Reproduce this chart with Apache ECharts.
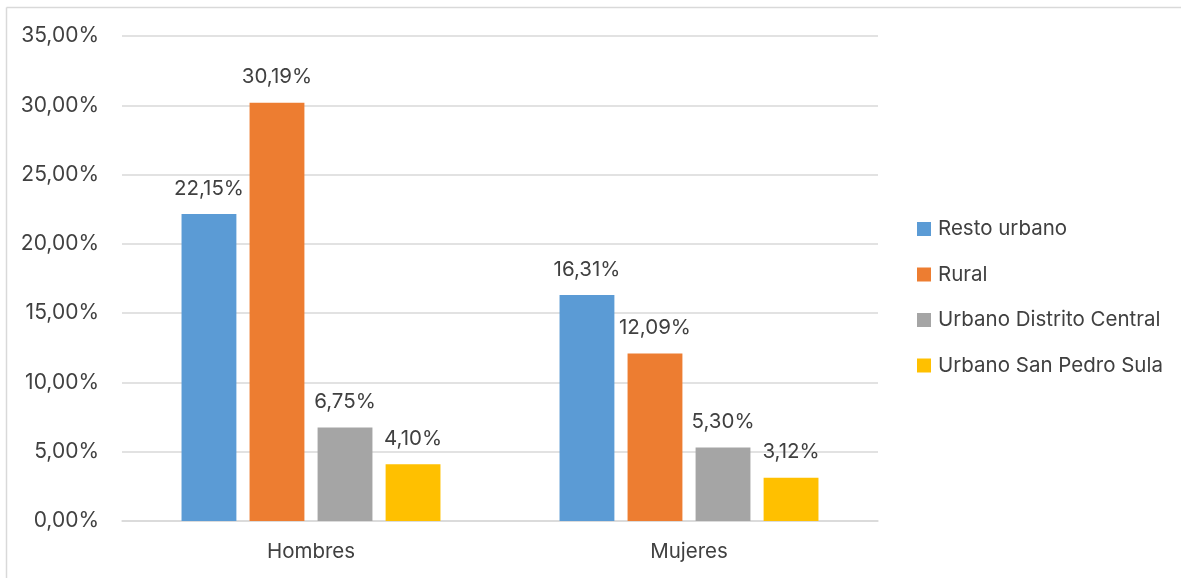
<!DOCTYPE html>
<html>
<head>
<meta charset="utf-8">
<style>
  html, body { margin: 0; padding: 0; background: #fff; }
  #chart { width: 1181px; height: 578px; }
</style>
<script src="https://cdn.jsdelivr.net/npm/echarts@6/dist/echarts.min.js"></script>
</head>
<body>
<div id="chart"></div>
<script>
// Categories and series values (percent)
const categories = ['Hombres', 'Mujeres'];
const seriesNames = ['Resto urbano', 'Rural', 'Urbano Distrito Central', 'Urbano San Pedro Sula'];
const restoUrbano = [22.15, 16.31];
const rural = [30.19, 12.09];
const urbanoDC = [6.75, 5.30];
const urbanoSPS = [4.10, 3.12];
const colors = ['#5B9BD5', '#ED7D31', '#A5A5A5', '#FFC000'];

const fmt = v => v.toFixed(2).replace('.', ',') + '%';
const FONT = 'Inter, "Noto Sans", sans-serif';
const TEXT = '#404040';

const chart = echarts.init(document.getElementById('chart'), null, { renderer: 'canvas' });

const values = [restoUrbano, rural, urbanoDC, urbanoSPS];
const series = seriesNames.map((name, i) => ({
  name,
  type: 'bar',
  data: values[i],
  barGap: '24%',
  barCategoryGap: '31.5%',
  itemStyle: { color: colors[i] },
  label: {
    show: true,
    position: 'top',
    distance: 15,
    color: TEXT,
    fontSize: 20.5,
    fontFamily: FONT,
    formatter: p => fmt(p.value)
  }
}));

chart.setOption({
  animation: false,
  color: colors,
  grid: { left: 122, right: 303, top: 36, bottom: 57, containLabel: false },
  legend: {
    orient: 'vertical',
    left: 917,
    top: 218,
    padding: 0,
    itemWidth: 14,
    itemHeight: 14,
    itemGap: 23.5,
    icon: 'rect',
    textStyle: { color: TEXT, fontSize: 20.5, fontFamily: FONT, lineHeight: 22, padding: [0, 0, 0, 2] },
    data: seriesNames
  },
  xAxis: {
    type: 'category',
    data: categories,
    axisLine: { show: true, lineStyle: { color: '#d9d9d9', width: 1.5 } },
    axisTick: { show: false },
    axisLabel: { color: TEXT, fontSize: 20.5, fontFamily: FONT, margin: 20 }
  },
  yAxis: {
    type: 'value',
    min: 0,
    max: 35,
    interval: 5,
    axisLine: { show: false },
    axisTick: { show: false },
    splitLine: { lineStyle: { color: '#d9d9d9', width: 1.5 } },
    axisLabel: { color: TEXT, fontSize: 21, fontFamily: FONT, margin: 23, formatter: v => fmt(v) }
  },
  graphic: [
    { type: 'line', shape: { x1: 6.5, y1: 7.5, x2: 1181, y2: 7.5 }, style: { stroke: '#d9d9d9', lineWidth: 1.5 }, silent: true },
    { type: 'line', shape: { x1: 6.5, y1: 7.5, x2: 6.5, y2: 578 }, style: { stroke: '#d9d9d9', lineWidth: 1.5 }, silent: true }
  ],
  series
});
</script>
</body>
</html>
